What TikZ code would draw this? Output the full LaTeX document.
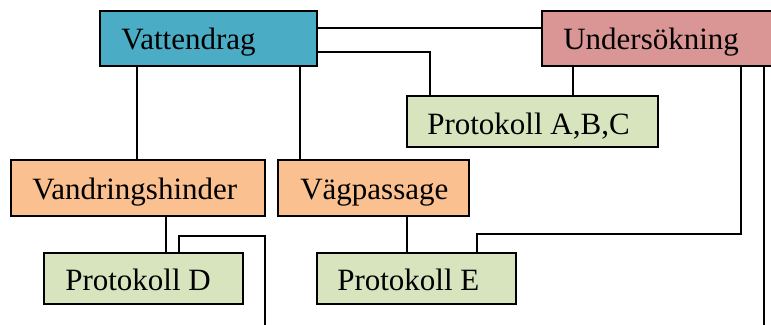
\documentclass[tikz,border=0pt]{standalone}
\usepackage{fontspec}
\setmainfont{Liberation Serif}
\definecolor{cTeal}{HTML}{4BACC6}
\definecolor{cPink}{HTML}{D99694}
\definecolor{cGreen}{HTML}{D7E4BD}
\definecolor{cOrange}{HTML}{FAC090}
\tikzset{
  box/.style={draw=black, line width=1.8pt, rectangle, inner sep=0pt},
  lbl/.style={anchor=base west, inner sep=0pt, font=\fontsize{31}{36}\selectfont},
  conn/.style={draw=black, line width=1.7pt}
}
\begin{document}
\begin{tikzpicture}[x=1pt,y=1pt]
\useasboundingbox (0,0) rectangle (771,324);
\clip (0,0) rectangle (771,324);
\fill[white] (0,0) rectangle (771,324);
% boxes
\node[box, fill=cTeal, minimum width=217pt, minimum height=55pt] (vat) at (208.5,285.5) {};
\node[box, fill=cPink, minimum width=234pt, minimum height=55pt] (und) at (659,285.5) {};
\node[box, fill=cGreen, minimum width=251pt, minimum height=51pt] (abc) at (532.5,202.5) {};
\node[box, fill=cOrange, minimum width=254pt, minimum height=56pt] (van) at (138,136) {};
\node[box, fill=cOrange, minimum width=191pt, minimum height=56pt] (vag) at (373.5,136) {};
\node[box, fill=cGreen, minimum width=199pt, minimum height=51pt] (pd) at (143.5,45.5) {};
\node[box, fill=cGreen, minimum width=199pt, minimum height=51pt] (pe) at (416.5,45.5) {};
% labels
\node[lbl] (vatT) at ([xshift=22pt,yshift=-11.5pt]vat.west) {Vattendrag};
\node[lbl] (undT) at ([xshift=22pt,yshift=-11.5pt]und.west) {Undersökning};
\node[lbl] (abcT) at ([xshift=21pt,yshift=-13.5pt]abc.west) {Protokoll A,B,C};
\node[lbl] (vanT) at ([xshift=22pt,yshift=-12pt]van.west) {Vandringshinder};
\node[lbl] (vagT) at ([xshift=23pt,yshift=-12pt]vag.west) {Vägpassage};
\node[lbl] (pdT) at ([xshift=22pt,yshift=-11.5pt]pd.west) {Protokoll D};
\node[lbl] (peT) at ([xshift=21pt,yshift=-11.5pt]pe.west) {Protokoll E};
% free-end coordinates
\coordinate (dturn) at (265,88);
\coordinate (dend) at (265,-5);
\coordinate (eturn) at (741,90);
\coordinate (uend) at (764,-5);
% connectors
\draw[conn] ([yshift=10.5pt]vat.east) -- ([yshift=10.5pt]und.west);
\draw[conn] ([yshift=-13.5pt]vat.east) -| ([xshift=-102.5pt]abc.north);
\draw[conn] ([xshift=-86pt]und.south) -- ([xshift=-86pt]und.south |- abc.north);
\draw[conn] ([xshift=-71.5pt]vat.south) -- ([xshift=-71.5pt]vat.south |- van.north);
\draw[conn] ([xshift=91.5pt]vat.south) -- ([xshift=91.5pt]vat.south |- vag.north);
\draw[conn] ([xshift=28pt]van.south) -- ([xshift=28pt]van.south |- pd.north);
\draw[conn] ([xshift=35.5pt]pd.north) |- (dturn) -- (dend);
\draw[conn] ([xshift=33.5pt]vag.south) -- ([xshift=33.5pt]vag.south |- pe.north);
\draw[conn] ([xshift=60.5pt]pe.north) |- (eturn) -- ([xshift=82pt]und.south);
\draw[conn] ([xshift=105pt]und.south) -- (uend);
\end{tikzpicture}
\end{document}
